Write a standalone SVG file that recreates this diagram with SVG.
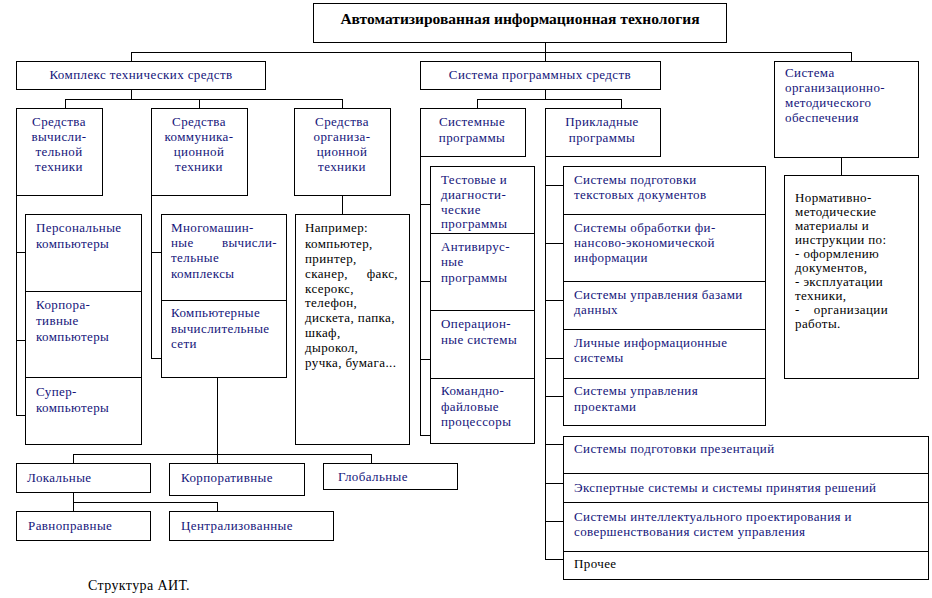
<svg xmlns="http://www.w3.org/2000/svg" width="932" height="598" viewBox="0 0 932 598">
<style>
.b{fill:#fff;stroke:#000;stroke-width:1;shape-rendering:crispEdges}
.c path{fill:none;stroke:#000;stroke-width:1;shape-rendering:crispEdges}
text{font-family:"Liberation Serif","DejaVu Serif",serif;font-size:13px;letter-spacing:0.4px}
.n{fill:#14147a}
.k{fill:#000}
.m{text-anchor:middle}
.e{text-anchor:end}
.h{font-size:15.5px;font-weight:bold;letter-spacing:0}
</style>
<rect width="932" height="598" fill="#fff"/>
<g class="c" id="connectors">
<path d="M545 42V52M131 52H851M131 52V61M545 52V61M851 52V61"/>
<path d="M131 89V99M65 99H342M65 99V108M199 99V108M342 99V108"/>
<path d="M16 195V415M16 252H25M16 340H25M16 415H25"/>
<path d="M151 195V358M151 252H161M151 358H161"/>
<path d="M342 195V214"/>
<path d="M217 377V463M73 454H371M73 454V463M371 454V463"/>
<path d="M73 492V511M73 502H217M217 502V511"/>
<path d="M545 89V99M477 99H621M477 99V108M621 99V108"/>
<path d="M420 156V435M420 204H430M420 281H430M420 359H430M420 435H430"/>
<path d="M545 156V559M545 185H563M545 243H563M545 300H563M545 358H563M545 396H563M545 444H563M545 483H563M545 521H563M545 559H563"/>
<path d="M841 157V175"/>
</g>
<g id="title"><rect class="b" x="313" y="3" width="413" height="39"/><text class="k m h" x="520" y="24">Автоматизированная информационная технология</text></g>
<g id="kts"><rect class="b" x="16" y="61" width="249" height="28"/><text class="n m" x="141" y="79">Комплекс технических средств</text></g>
<g id="sps"><rect class="b" x="420" y="61" width="240" height="28"/><text class="n m" x="540" y="79">Система программных средств</text></g>
<g id="som"><rect class="b" x="774" y="61" width="144" height="96"/><text class="n" x="785"><tspan x="785" y="77">Система</tspan><tspan x="785" y="92">организационно-</tspan><tspan x="785" y="107">методического</tspan><tspan x="785" y="122">обеспечения</tspan></text></g>
<g id="svt"><rect class="b" x="16" y="108" width="86" height="87"/><text class="n m"><tspan x="59" y="126">Средства</tspan><tspan x="59" y="141">вычисли-</tspan><tspan x="59" y="156">тельной</tspan><tspan x="59" y="171">техники</tspan></text></g>
<g id="skt"><rect class="b" x="151" y="108" width="96" height="87"/><text class="n m"><tspan x="199" y="126">Средства</tspan><tspan x="199" y="141">коммуника-</tspan><tspan x="199" y="156">ционной</tspan><tspan x="199" y="171">техники</tspan></text></g>
<g id="sot"><rect class="b" x="294" y="108" width="96" height="87"/><text class="n m"><tspan x="342" y="126">Средства</tspan><tspan x="342" y="141">организа-</tspan><tspan x="342" y="156">ционной</tspan><tspan x="342" y="171">техники</tspan></text></g>
<g id="sp"><rect class="b" x="420" y="108" width="105" height="48"/><text class="n m"><tspan x="472" y="126">Системные</tspan><tspan x="472" y="142">программы</tspan></text></g>
<g id="pp"><rect class="b" x="545" y="108" width="115" height="48"/><text class="n m"><tspan x="602" y="126">Прикладные</tspan><tspan x="602" y="142">программы</tspan></text></g>
<g id="test"><rect class="b" x="430" y="166" width="104" height="67"/><text class="n"><tspan x="441" y="184">Тестовые и</tspan><tspan x="441" y="199">диагности-</tspan><tspan x="441" y="214">ческие</tspan><tspan x="441" y="228">программы</tspan></text></g>
<g id="anti"><rect class="b" x="430" y="233" width="104" height="77"/><text class="n"><tspan x="441" y="251">Антивирус-</tspan><tspan x="441" y="266">ные</tspan><tspan x="441" y="282">программы</tspan></text></g>
<g id="os"><rect class="b" x="430" y="310" width="104" height="68"/><text class="n"><tspan x="441" y="328">Операцион-</tspan><tspan x="441" y="344">ные системы</tspan></text></g>
<g id="cmd"><rect class="b" x="430" y="378" width="104" height="65"/><text class="n"><tspan x="441" y="395">Командно-</tspan><tspan x="441" y="411">файловые</tspan><tspan x="441" y="426">процессоры</tspan></text></g>
<g id="a1"><rect class="b" x="563" y="166" width="202" height="48"/><text class="n"><tspan x="574" y="184">Системы подготовки</tspan><tspan x="574" y="199">текстовых документов</tspan></text></g>
<g id="a2"><rect class="b" x="563" y="214" width="202" height="67"/><text class="n"><tspan x="574" y="232">Системы обработки фи-</tspan><tspan x="574" y="247">нансово-экономической</tspan><tspan x="574" y="262">информации</tspan></text></g>
<g id="a3"><rect class="b" x="563" y="281" width="202" height="48"/><text class="n"><tspan x="574" y="299">Системы управления базами</tspan><tspan x="574" y="314">данных</tspan></text></g>
<g id="a4"><rect class="b" x="563" y="329" width="202" height="49"/><text class="n"><tspan x="574" y="347">Личные информационные</tspan><tspan x="574" y="362">системы</tspan></text></g>
<g id="a5"><rect class="b" x="563" y="378" width="202" height="47"/><text class="n"><tspan x="574" y="395">Системы управления</tspan><tspan x="574" y="411">проектами</tspan></text></g>
<g id="a6"><rect class="b" x="563" y="436" width="365" height="37"/><text class="n" x="574" y="453">Системы подготовки презентаций</text></g>
<g id="a7"><rect class="b" x="563" y="473" width="365" height="29"/><text class="n" x="574" y="492">Экспертные системы и системы принятия  решений</text></g>
<g id="a8"><rect class="b" x="563" y="502" width="365" height="49"/><text class="n"><tspan x="574" y="521">Системы интеллектуального проектирования и</tspan><tspan x="574" y="536">совершенствования систем управления</tspan></text></g>
<g id="a9"><rect class="b" x="563" y="551" width="365" height="28"/><text class="k" x="574" y="568">Прочее</text></g>
<g id="norm"><rect class="b" x="784" y="175" width="134" height="203"/><text class="k"><tspan x="795" y="202">Нормативно-</tspan><tspan x="795" y="216">методические</tspan><tspan x="795" y="230">материалы и</tspan><tspan x="795" y="244">инструкции по:</tspan><tspan x="795" y="258">- оформлению</tspan><tspan x="795" y="272">документов,</tspan><tspan x="795" y="286">- эксплуатации</tspan><tspan x="795" y="300">техники,</tspan><tspan x="795" y="314">-</tspan><tspan x="795" y="328">работы.</tspan></text><text class="k e" x="888" y="314">организации</text></g>
<g id="pc"><rect class="b" x="25" y="214" width="116" height="77"/><text class="n"><tspan x="36" y="232">Персональные</tspan><tspan x="36" y="248">компьютеры</tspan></text></g>
<g id="corp"><rect class="b" x="25" y="291" width="116" height="86"/><text class="n"><tspan x="36" y="309">Корпора-</tspan><tspan x="36" y="325">тивные</tspan><tspan x="36" y="341">компьютеры</tspan></text></g>
<g id="super"><rect class="b" x="25" y="377" width="116" height="67"/><text class="n"><tspan x="36" y="396">Супер-</tspan><tspan x="36" y="412">компьютеры</tspan></text></g>
<g id="mvk"><rect class="b" x="161" y="214" width="125" height="86"/><text class="n"><tspan x="171" y="232">Многомашин-</tspan><tspan x="171" y="247">ные</tspan><tspan x="171" y="262">тельные</tspan><tspan x="171" y="278">комплексы</tspan></text><text class="n e" x="277" y="247">вычисли-</text></g>
<g id="kvs"><rect class="b" x="161" y="300" width="125" height="77"/><text class="n"><tspan x="171" y="317">Компьютерные</tspan><tspan x="171" y="333">вычислительные</tspan><tspan x="171" y="348">сети</tspan></text></g>
<g id="ex"><rect class="b" x="295" y="214" width="114" height="230"/><text class="k"><tspan x="305" y="232">Например:</tspan><tspan x="305" y="248">компьютер,</tspan><tspan x="305" y="263">принтер,</tspan><tspan x="305" y="278">сканер,</tspan><tspan x="305" y="293">ксерокс,</tspan><tspan x="305" y="307">телефон,</tspan><tspan x="305" y="322">дискета, папка,</tspan><tspan x="305" y="337">шкаф,</tspan><tspan x="305" y="352">дырокол,</tspan><tspan x="305" y="367">ручка, бумага...</tspan></text><text class="k e" x="398" y="278">факс,</text></g>
<g id="loc"><rect class="b" x="16" y="463" width="134" height="29"/><text class="n" x="27" y="482">Локальные</text></g>
<g id="korp"><rect class="b" x="169" y="463" width="135" height="32"/><text class="n" x="181" y="482">Корпоративные</text></g>
<g id="glob"><rect class="b" x="323" y="463" width="134" height="26"/><text class="n" x="338" y="481">Глобальные</text></g>
<g id="rav"><rect class="b" x="16" y="511" width="134" height="29"/><text class="n" x="28" y="530">Равноправные</text></g>
<g id="cent"><rect class="b" x="169" y="511" width="164" height="29"/><text class="n" x="181" y="530">Централизованные</text></g>
<text class="k" x="88" y="590" style="font-size:14px">Структура АИТ.</text>
</svg>
